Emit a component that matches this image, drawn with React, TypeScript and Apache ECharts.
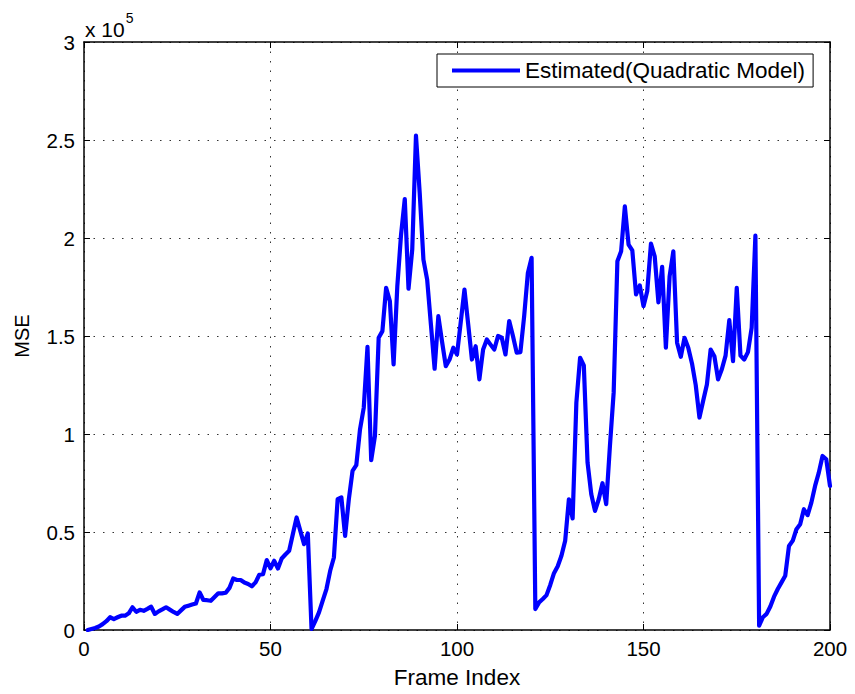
import React, { useEffect, useRef } from "react";
import * as echarts from "echarts";

// MSE per frame, in units of 1e5 (frames 1..200)
const frames: number[] = Array.from({ length: 200 }, (_, i) => i + 1);
const mseE5: number[] = [
  0.0, 0.005, 0.01, 0.018, 0.03, 0.045, 0.065, 0.056, 0.065, 0.073,
  0.073, 0.085, 0.116, 0.093, 0.103, 0.098, 0.108, 0.119, 0.082, 0.095,
  0.105, 0.116, 0.104, 0.092, 0.082, 0.1, 0.118, 0.124, 0.13, 0.135,
  0.192, 0.153, 0.152, 0.149, 0.168, 0.187, 0.187, 0.19, 0.215, 0.263,
  0.255, 0.255, 0.242, 0.235, 0.223, 0.243, 0.282, 0.285, 0.357, 0.315,
  0.353, 0.314, 0.365, 0.385, 0.404, 0.49, 0.574, 0.506, 0.438, 0.493,
  0.005, 0.045, 0.09, 0.15, 0.209, 0.302, 0.37, 0.667, 0.676, 0.48,
  0.667, 0.812, 0.841, 1.024, 1.134, 1.445, 0.866, 0.99, 1.491, 1.525,
  1.746, 1.678, 1.355, 1.754, 2.017, 2.199, 1.741, 1.941, 2.522, 2.23,
  1.89, 1.788, 1.56, 1.333, 1.601, 1.47, 1.346, 1.38, 1.44, 1.406,
  1.57, 1.737, 1.56, 1.38, 1.448, 1.279, 1.431, 1.482, 1.456, 1.431,
  1.5, 1.491, 1.406, 1.576, 1.5, 1.415, 1.418, 1.6, 1.822, 1.899,
  0.107, 0.141, 0.158, 0.178, 0.23, 0.29, 0.325, 0.379, 0.455, 0.667,
  0.569, 1.16, 1.389, 1.35, 0.854, 0.693, 0.608, 0.667, 0.749, 0.642,
  0.939, 1.211, 1.881, 1.932, 2.161, 1.966, 1.937, 1.712, 1.758, 1.652,
  1.728, 1.971, 1.907, 1.672, 1.853, 1.44, 1.805, 1.932, 1.466, 1.394,
  1.491, 1.44, 1.36, 1.25, 1.084, 1.17, 1.253, 1.431, 1.397, 1.279,
  1.33, 1.4, 1.581, 1.372, 1.746, 1.4, 1.38, 1.418, 1.542, 2.012,
  0.022, 0.065, 0.082, 0.12, 0.17, 0.209, 0.243, 0.277, 0.429, 0.455,
  0.514, 0.54, 0.616, 0.586, 0.65, 0.735, 0.803, 0.888, 0.871, 0.735,
];
const SCALE = 1e5;
const seriesName = "Estimated(Quadratic Model)";
const xTitle = "Frame Index";
const yTitle = "MSE";

const FONT = "Liberation Sans, Arial, Helvetica, sans-serif";

export default function App() {
  const ref = useRef<HTMLDivElement>(null);

  useEffect(() => {
    if (!ref.current) return;
    const chart = echarts.init(ref.current, undefined, { renderer: "svg" });
    const data = frames.map((f, i) => [f, mseE5[i] * SCALE]);
    const tickStyle = { show: true, inside: true, length: 6, lineStyle: { color: "#000", width: 1 } };
    const axisLine = { show: true, onZero: false, lineStyle: { color: "#000", width: 1.5 } };
    const gridLine = { show: true, lineStyle: { color: "#333", width: 1, type: [1.5, 8] as number[] } };

    chart.setOption({
      animation: false,
      backgroundColor: "#fff",
      textStyle: { fontFamily: FONT },
      grid: { left: 84, right: 25, top: 42, bottom: 63 },
      legend: {
        show: true,
        left: 437,
        top: 54,
        orient: "horizontal",
        backgroundColor: "#fff",
        borderColor: "#000",
        borderWidth: 1,
        borderRadius: 0,
        padding: [5, 8, 5, 15],
        itemWidth: 68,
        itemHeight: 14,
        itemGap: 8,
        textStyle: { fontFamily: FONT, fontSize: 22.5, color: "#000" },
        data: [{ name: seriesName, icon: "path://M0,5.5 L68,5.5 L68,9.5 L0,9.5 Z", itemStyle: { color: "#0000ff" } }],
      },
      xAxis: [
        {
          type: "value",
          min: 0,
          max: 200,
          interval: 50,
          position: "bottom",
          name: xTitle,
          nameLocation: "middle",
          nameGap: 36,
          nameTextStyle: { fontSize: 22.5, color: "#000", fontFamily: FONT },
          axisLine,
          axisTick: tickStyle,
          axisLabel: { fontSize: 20.5, color: "#000", margin: 8, fontFamily: FONT },
          splitLine: gridLine,
        },
        {
          type: "value",
          min: 0,
          max: 200,
          interval: 50,
          position: "top",
          axisLine,
          axisTick: tickStyle,
          axisLabel: { show: false },
          splitLine: { show: false },
        },
      ],
      yAxis: [
        {
          type: "value",
          min: 0,
          max: 3 * SCALE,
          interval: 0.5 * SCALE,
          position: "left",
          name: yTitle,
          nameLocation: "middle",
          nameGap: 52,
          nameRotate: 90,
          nameTextStyle: { fontSize: 20, color: "#000", fontFamily: FONT },
          axisLine,
          axisTick: tickStyle,
          axisLabel: {
            fontSize: 20.5,
            color: "#000",
            margin: 9,
            fontFamily: FONT,
            formatter: (v: number) => String(Math.round((v / SCALE) * 10) / 10),
          },
          splitLine: gridLine,
        },
        {
          type: "value",
          min: 0,
          max: 3 * SCALE,
          interval: 0.5 * SCALE,
          position: "right",
          axisLine,
          axisTick: tickStyle,
          axisLabel: { show: false },
          splitLine: { show: false },
        },
      ],
      series: [
        {
          name: seriesName,
          type: "line",
          data,
          symbol: "none",
          lineStyle: { color: "#0000ff", width: 4.2, join: "round", cap: "round" },
          itemStyle: { color: "#0000ff" },
          z: 3,
        },
      ],
      graphic: [
        {
          type: "text",
          left: 85,
          top: 11,
          style: {
            text: "{b|x 10}{s|5}",
            rich: {
              b: { fontSize: 21, fontFamily: FONT, fill: "#000", verticalAlign: "bottom", padding: [8, 0, 0, 0] },
              s: { fontSize: 14, fontFamily: FONT, fill: "#000", verticalAlign: "top", padding: [0, 0, 10, 1] },
            },
          },
        },
      ],
    });
    return () => chart.dispose();
  }, []);

  return (
    <div
      ref={ref}
      style={{ position: "fixed", left: 0, top: 0, width: 855, height: 694, background: "#fff" }}
    />
  );
}
